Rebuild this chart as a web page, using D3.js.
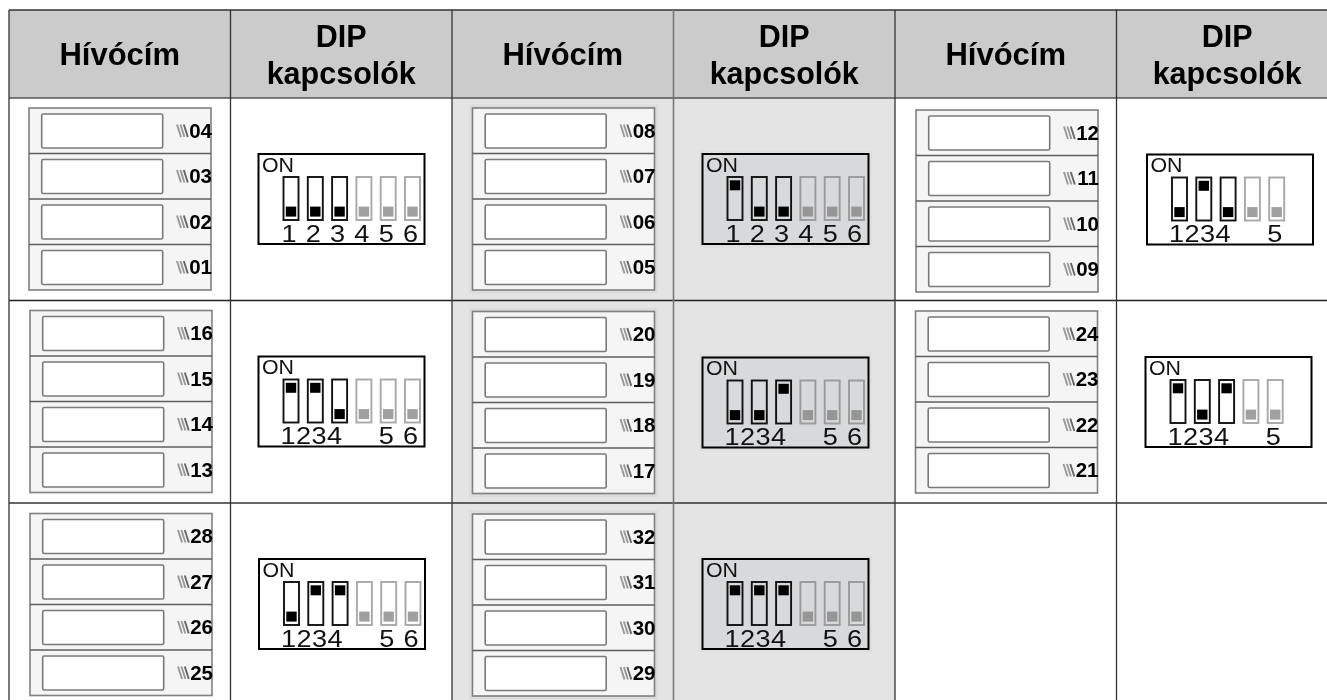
<!DOCTYPE html>
<html><head><meta charset="utf-8">
<script src="https://cdn.jsdelivr.net/npm/d3@7"></script>
<style>html,body{margin:0;padding:0;background:#fff;overflow:hidden}svg{display:block;filter:blur(.35px)}text{font-family:"Liberation Sans",Arial,sans-serif}</style>
</head><body><div id="c"></div>
<script>
// --- data ---
const headerAddress = ["Hívócím"];
const headerDip = ["DIP", "kapcsolók"];
const addresses = [
  [["04","03","02","01"],["08","07","06","05"],["12","11","10","09"]],
  [["16","15","14","13"],["20","19","18","17"],["24","23","22","21"]],
  [["28","27","26","25"],["32","31","30","29"]]
];
// first three switches: 1 = knob up (ON), 0 = knob down
const dipStates = [
  [[0,0,0],[1,0,0],[0,1,0]],
  [[1,1,0],[0,0,1],[1,0,1]],
  [[0,1,1],[1,1,1]]
];
const switchCounts = [[6,6,5],[6,6,5],[6,6]];
const switchLabels = [
  [["1","2","3","4","5","6"],["1","2","3","4","5","6"],["1","2","3","4","5"]],
  [["1","2","3","4","5","6"],["1","2","3","4","5","6"],["1","2","3","4","5"]],
  [["1","2","3","4","5","6"],["1","2","3","4","5","6"]]
];
const onLabel = "ON";

// --- layout ---
const W = 1327, H = 700;
const x = d3.scaleLinear().domain([0,6]).range([9,1338]);
const y = d3.scaleLinear().domain([0,3]).range([98,705.5]);
const slotY = d3.scaleLinear().domain([0,4]).range([0,182]);
const sw = d3.scaleLinear().domain([0,1]).range([25,49.3]);
const tight = d3.scaleLinear().domain([0,1]).range([29.5,45]);
const panelNudge = [[[0,0],[.5,0],[1,2]],[[1,0],[.5,1],[.5,.5]],[[1,.5],[.5,1]]];
const dipNudge = [[[0,0],[1,0],[2.5,.5]],[[0,0],[1,1],[1,.5]],[[.5,0],[1,0]]];

const svg = d3.select("#c").append("svg").attr("width",W).attr("height",H);
svg.append("rect").attr("width",W).attr("height",H).attr("fill","#fff");
// header + shaded band
svg.append("rect").attr("x",x(0)).attr("y",10).attr("width",W-x(0)+10).attr("height",y(0)-10).attr("fill","#cbcbcb");
svg.append("rect").attr("x",x(2)).attr("y",y(0)).attr("width",x(4)-x(2)).attr("height",H-y(0)+10).attr("fill","#e4e4e4");

// header text
d3.range(3).forEach(g=>{
  svg.append("text").attr("x",(x(2*g)+x(2*g+1))/2).attr("y",65).attr("text-anchor","middle")
    .attr("font-size",31).attr("font-weight","bold").attr("fill","#000").text(headerAddress[0]);
  svg.selectAll(null).data(headerDip).enter().append("text")
    .attr("x",(x(2*g+1)+x(2*g+2))/2).attr("y",(d,i)=>i?83.5:47).attr("text-anchor","middle")
    .attr("font-size",30.5).attr("font-weight","bold").attr("fill","#000").text(d=>d);
});

// cells
addresses.forEach((rowGroups,r)=>rowGroups.forEach((list,g)=>{
  const shaded = g===1;
  const [pdx,pdy] = panelNudge[r][g], [ddx,ddy] = dipNudge[r][g];
  const px = x(2*g)+20+pdx, py = y(r)+10+pdy;
  const panel = svg.append("g").attr("transform",`translate(${px},${py})`);
  const pw = 182, ph = 182;
  if(shaded) panel.append("rect").attr("x",-3.5).attr("y",-3.5).attr("width",pw+7).attr("height",ph+7).attr("fill","#dcdcdc");
  panel.append("rect").attr("width",pw).attr("height",ph).attr("fill","#f5f5f5").attr("stroke","#808080").attr("stroke-width",1.6);
  const slot = panel.selectAll(null).data(list).enter().append("g").attr("transform",(d,i)=>`translate(0,${slotY(i)})`);
  slot.filter((d,i)=>i>0).append("line").attr("x2",pw).attr("stroke","#5e5e5e").attr("stroke-width",1.6);
  slot.append("rect").attr("x",12.7).attr("y",6).attr("width",121).attr("height",34).attr("rx",1.5)
    .attr("fill","#fff").attr("stroke","#7a7a7a").attr("stroke-width",1.6);
  slot.selectAll("line.w").data([0,1,2]).enter().append("line").attr("class","w")
    .attr("x1",i=>148+i*3.4).attr("y1",16.5).attr("x2",i=>152+i*3.4).attr("y2",29)
    .attr("stroke",i=>i===2?"#666":"#999").attr("stroke-width",1.9);
  slot.append("text").attr("x",pw+1).attr("y",29.5).attr("text-anchor","end")
    .attr("font-size",20.5).attr("font-weight","bold").attr("fill","#000").text(d=>d);

  // DIP box
  const dx = x(2*g+1)+28+ddx, dy = y(r)+56+ddy, dw = 166, dh = 90;
  const dip = svg.append("g").attr("transform",`translate(${dx},${dy})`);
  if(shaded) dip.append("rect").attr("x",-3.5).attr("y",-3.5).attr("width",dw+7).attr("height",dh+7).attr("fill","#dfdfdf");
  dip.append("rect").attr("width",dw).attr("height",dh).attr("fill",shaded?"#d8d9db":"#fff").attr("stroke","#000").attr("stroke-width",2);
  dip.append("text").attr("x",3.5).attr("y",17.8).attr("font-size",19.5).attr("textLength",32).attr("lengthAdjust","spacingAndGlyphs").attr("fill","#111").text(onLabel);
  const states = dipStates[r][g];
  const sws = d3.range(switchCounts[r][g]).map(i=>({i,active:i<states.length,up:i<states.length?states[i]===1:false}));
  const s = dip.selectAll(null).data(sws).enter().append("g").attr("transform",d=>`translate(${sw(d.i)},23)`);
  s.append("rect").attr("width",15).attr("height",43).attr("fill","none")
    .attr("stroke",d=>d.active?"#111":(shaded?"#9a9a9a":"#a8a8a8")).attr("stroke-width",1.9);
  s.append("rect").attr("x",2.3).attr("y",d=>d.up?3.3:29.6).attr("width",10.4).attr("height",10)
    .attr("fill",d=>d.active?"#000":(shaded?"#969696":"#a0a0a0"));
  // labels: wide layout follows the switches, the others set 1234 tight
  const labels = switchLabels[r][g];
  const wide = r===0 && g<2;
  dip.selectAll(null).data(labels).enter().append("text")
    .attr("transform",(d,i)=>`translate(${wide ? sw(i)+5.5 : (i<4 ? tight(i) : sw(i)+5.5)},87.5) scale(1.18,1)`)
    .attr("text-anchor","middle").attr("font-size",23).attr("fill","#111").text(d=>d);
}));

// grid lines
const hLines = [[10,"#333",1.5],[y(0),"#555",1.5],[y(1),"#222",1.3],[y(2),"#333",1.3]];
svg.selectAll(null).data(hLines).enter().append("line").attr("x1",x(0)).attr("x2",W+10).attr("y1",d=>d[0]).attr("y2",d=>d[0])
  .attr("stroke",d=>d[1]).attr("stroke-width",d=>d[2]);
svg.selectAll(null).data(d3.range(0,6)).enter().append("line").attr("x1",d=>x(d)).attr("x2",d=>x(d)).attr("y1",10).attr("y2",H+10)
  .attr("stroke",d=>d===3?"#777":"#333").attr("stroke-width",d=>d===3?1.6:1.3);
</script></body></html>
